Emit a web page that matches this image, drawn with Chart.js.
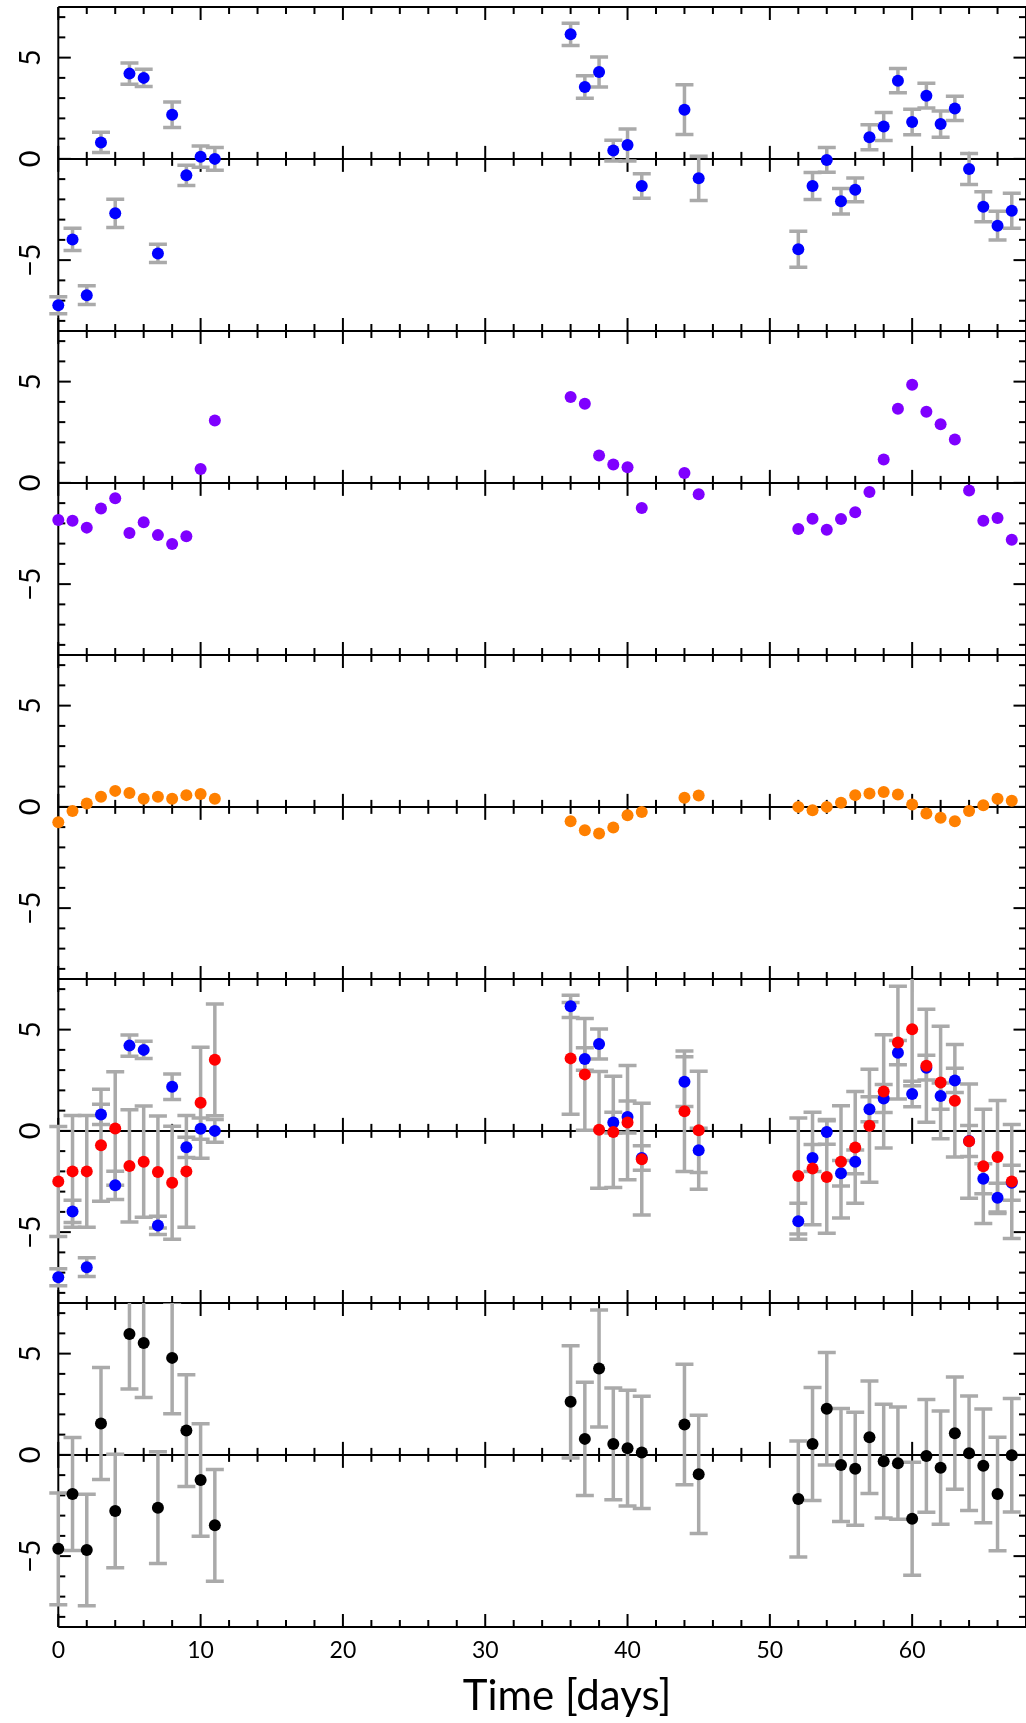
<!DOCTYPE html>
<html>
<head>
<meta charset="utf-8">
<script src="https://cdn.jsdelivr.net/npm/chart.js@4.4.0/dist/chart.umd.min.js"></script>
<style>
  html, body { margin: 0; padding: 0; background: #fff; overflow: hidden; }
  #wrap { position: relative; width: 1026px; height: 1723px; overflow: hidden; }
  #myChart { position: absolute; left: 0; top: 0; }
  #xtitle {
    position: absolute; left: 567px; top: 1673px; transform: translateX(-50%);
    font-family: Lato, sans-serif; font-size: 42px; line-height: 42px; color: #000; white-space: nowrap;
  }
</style>
</head>
<body>
<div id="wrap">
  <canvas id="myChart" width="1032" height="1723" style="width:1032px;height:1723px"></canvas>
  <div id="xtitle">Time [days]</div>
</div>
<script>
// observation days (same for every panel)
var days = [0, 1, 2, 3, 4, 5, 6, 7, 8, 9, 10, 11,
  36, 37, 38, 39, 40, 41,
  44, 45,
  52, 53, 54, 55, 56, 57, 58, 59, 60, 61, 62, 63, 64, 65, 66, 67];

// panel 1 and 4: blue series with its errors
var blueValues = [-7.23, -3.98, -6.73, 0.81, -2.69, 4.21, 4.0, -4.67, 2.18, -0.81, 0.11, 0.0,
  6.15, 3.55, 4.29, 0.41, 0.69, -1.34,
  2.43, -0.96,
  -4.46, -1.34, -0.05, -2.09, -1.53, 1.07, 1.6, 3.86, 1.82, 3.12, 1.72, 2.49, -0.5, -2.36, -3.3, -2.56];
var blueErrors = [0.42, 0.55, 0.46, 0.5, 0.7, 0.52, 0.43, 0.45, 0.63, 0.5, 0.52, 0.56,
  0.55, 0.56, 0.74, 0.51, 0.79, 0.6,
  1.23, 1.09,
  0.89, 0.67, 0.61, 0.63, 0.59, 0.62, 0.69, 0.6, 0.63, 0.61, 0.65, 0.6, 0.76, 0.74, 0.71, 0.86];

// panel 2: purple series
var purpleValues = [-1.83, -1.87, -2.21, -1.26, -0.76, -2.48, -1.95, -2.58, -3.02, -2.64, 0.69, 3.08,
  4.24, 3.91, 1.35, 0.91, 0.77, -1.24,
  0.49, -0.56,
  -2.28, -1.77, -2.31, -1.78, -1.45, -0.45, 1.15, 3.66, 4.85, 3.51, 2.89, 2.14, -0.38, -1.87, -1.73, -2.81];

// panel 3: orange series
var orangeValues = [-0.76, -0.2, 0.17, 0.5, 0.79, 0.69, 0.4, 0.5, 0.4, 0.58, 0.63, 0.4,
  -0.71, -1.15, -1.32, -1.02, -0.41, -0.25,
  0.45, 0.56,
  0.0, -0.17, 0.0, 0.2, 0.58, 0.66, 0.74, 0.61, 0.12, -0.33, -0.54, -0.71, -0.2, 0.08, 0.4, 0.3];

// panel 4: red series with its errors
var redValues = [-2.5, -2.0, -2.0, -0.71, 0.12, -1.73, -1.52, -2.03, -2.56, -2.0, 1.39, 3.51,
  3.58, 2.79, 0.05, -0.05, 0.41, -1.4,
  0.97, 0.03,
  -2.23, -1.86, -2.28, -1.53, -0.82, 0.25, 1.95, 4.36, 5.02, 3.22, 2.39, 1.49, -0.51, -1.75, -1.29, -2.5];
var redErrors = [2.72, 2.76, 2.76, 2.76, 2.8, 2.77, 2.75, 2.77, 2.79, 2.76, 2.74, 2.76,
  2.76, 2.76, 2.88, 2.75, 2.82, 2.76,
  2.97, 2.91,
  2.86, 2.78, 2.78, 2.77, 2.76, 2.79, 2.8, 2.78, 2.79, 2.79, 2.78, 2.78, 2.82, 2.82, 2.79, 2.81];

// panel 5: black series with its errors
var blackValues = [-4.64, -1.93, -4.7, 1.55, -2.77, 5.97, 5.53, -2.61, 4.79, 1.2, -1.24, -3.48,
  2.62, 0.79, 4.27, 0.54, 0.33, 0.12,
  1.5, -0.96,
  -2.18, 0.54, 2.28, -0.5, -0.69, 0.87, -0.31, -0.41, -3.15, -0.05, -0.63, 1.07, 0.08, -0.54, -1.93, -0.02];
var blackErrors = [2.76, 2.79, 2.75, 2.76, 2.8, 2.72, 2.7, 2.76, 2.76, 2.76, 2.78, 2.76,
  2.77, 2.8, 2.89, 2.76, 2.86, 2.77,
  2.97, 2.92,
  2.86, 2.79, 2.78, 2.79, 2.79, 2.78, 2.81, 2.77, 2.79, 2.78, 2.8, 2.77, 2.83, 2.81, 2.8, 2.8];

// axis settings
var xTickLabels = [0, 10, 20, 30, 40, 50, 60];
var yTickLabels = [-5, 0, 5];
var xMin = 0, xMax = 68;
var yMin = -8.5, yMax = 7.5;

document.addEventListener('DOMContentLoaded', function () {
  var ctx = document.getElementById('myChart').getContext('2d');
  var panels = ['p1', 'p2', 'p3', 'p4', 'p5'];

  function points(vals) {
    return vals.map(function (v, i) { return {x: days[i], y: v}; });
  }

  function series(vals, color, axis, order) {
    return {
      data: points(vals),
      yAxisID: axis,
      showLine: false,
      pointRadius: 6,
      pointHoverRadius: 6,
      pointBorderWidth: 0,
      pointBackgroundColor: color,
      borderColor: color,
      clip: false,
      order: order
    };
  }

  var errorSets = [
    {vals: blueValues, errs: blueErrors, axis: 'p1'},
    {vals: blueValues, errs: blueErrors, axis: 'p4'},
    {vals: redValues, errs: redErrors, axis: 'p4'},
    {vals: blackValues, errs: blackErrors, axis: 'p5'}
  ];

  function line(c, x1, y1, x2, y2) {
    c.beginPath(); c.moveTo(x1, y1); c.lineTo(x2, y2); c.stroke();
  }

  // no extra room for overhanging labels, the panels fill the chart area
  function noPadding(axis) {
    axis.paddingTop = 0; axis.paddingBottom = 0;
    axis.paddingLeft = 0; axis.paddingRight = 0;
  }

  // frames, zero lines, inward ticks and the grey error bars
  var framePlugin = {
    id: 'frames',
    beforeDatasetsDraw: function (chart) {
      var c = chart.ctx, area = chart.chartArea, xs = chart.scales.x;
      c.save();
      c.strokeStyle = '#000';
      c.lineWidth = 2;
      panels.forEach(function (id) {
        var s = chart.scales[id];
        var top = s.top, bot = s.bottom, z = s.getPixelForValue(0);
        line(c, area.left, top, area.right, top);
        line(c, area.left, bot, area.right, bot);
        line(c, area.left, z, area.right, z);
        for (var d = xMin; d <= xMax; d += 2) {
          var px = xs.getPixelForValue(d);
          var L = d % 10 === 0 ? 13 : 7;
          line(c, px, top, px, top + L);
          line(c, px, bot, px, bot - L);
          line(c, px, z - L, px, z + L);
        }
        for (var v = -8; v <= 7; v++) {
          var py = s.getPixelForValue(v);
          var Ly = v % 5 === 0 ? 12.5 : 7;
          line(c, area.left, py, area.left + Ly, py);
          line(c, area.right, py, area.right - Ly, py);
        }
      });
      line(c, area.left, area.top, area.left, area.bottom);
      line(c, area.right, area.top, area.right, area.bottom);

      c.strokeStyle = '#aaaaaa';
      c.lineWidth = 3.5;
      errorSets.forEach(function (set) {
        var s = chart.scales[set.axis];
        c.save();
        c.beginPath();
        c.rect(area.left - 20, s.top, area.right - area.left + 40, s.bottom - s.top);
        c.clip();
        set.vals.forEach(function (v, i) {
          var px = xs.getPixelForValue(days[i]);
          var hi = s.getPixelForValue(v + set.errs[i]);
          var lo = s.getPixelForValue(v - set.errs[i]);
          line(c, px, hi, px, lo);
          line(c, px - 9, hi, px + 9, hi);
          line(c, px - 9, lo, px + 9, lo);
        });
        c.restore();
      });
      c.restore();
    }
  };

  var scales = {
    x: {
      type: 'linear',
      position: 'bottom',
      min: xMin,
      max: xMax,
      grid: {display: false, drawTicks: false},
      border: {display: false},
      afterBuildTicks: function (axis) {
        axis.ticks = xTickLabels.map(function (v) { return {value: v}; });
      },
      afterFit: function (axis) { axis.height = 96; noPadding(axis); },
      ticks: {
        color: '#000',
        padding: 10,
        maxRotation: 0,
        autoSkip: false,
        font: {family: 'Lato', size: 23}
      }
    }
  };

  panels.forEach(function (id, k) {
    scales[id] = {
      type: 'linear',
      position: 'left',
      stack: 'panels',
      stackWeight: 1,
      weight: 5 - k,
      min: yMin,
      max: yMax,
      grid: {display: false, drawTicks: false},
      border: {display: false},
      afterBuildTicks: function (axis) {
        axis.ticks = yTickLabels.map(function (v) { return {value: v}; });
      },
      afterFit: function (axis) { axis.width = 58.3; noPadding(axis); },
      ticks: {
        color: '#000',
        padding: 11,
        minRotation: 90,
        maxRotation: 90,
        crossAlign: 'center',
        autoSkip: false,
        font: {family: 'Lato', size: 29},
        callback: function (value) {
          return value < 0 ? '\u2212' + Math.abs(value) : String(value);
        }
      }
    };
  });

  var myChart = new Chart(ctx, {
    type: 'scatter',
    data: {
      datasets: [
        series(blueValues, '#0000ff', 'p1', 1),
        series(purpleValues, '#7f00ff', 'p2', 1),
        series(orangeValues, '#ff8000', 'p3', 1),
        series(redValues, '#ff0000', 'p4', 0),
        series(blueValues, '#0000ff', 'p4', 1),
        series(blackValues, '#000000', 'p5', 1)
      ]
    },
    options: {
      responsive: false,
      animation: false,
      events: [],
      devicePixelRatio: 1,
      layout: {padding: {top: 7, left: 0, right: 1.3, bottom: 0}},
      plugins: {legend: {display: false}, tooltip: {enabled: false}},
      scales: scales
    },
    plugins: [framePlugin]
  });
});
</script>
</body>
</html>
